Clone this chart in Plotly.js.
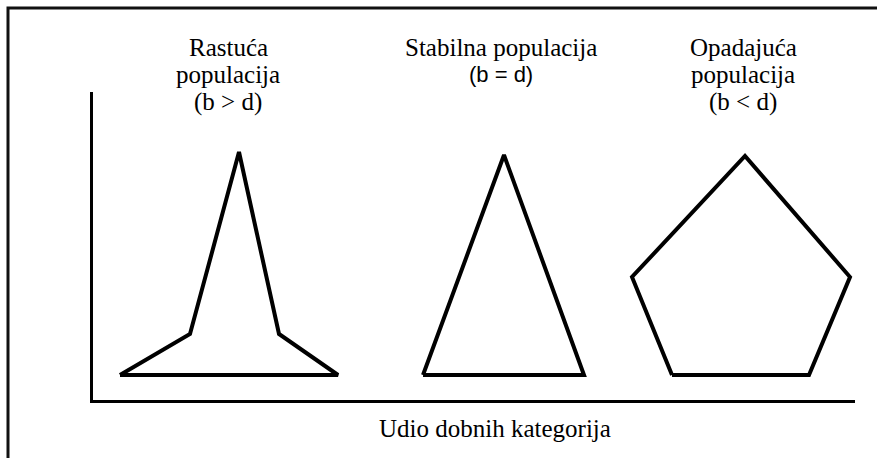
<!DOCTYPE html>
<html>
<head>
<meta charset="utf-8">
<script src="https://cdn.plot.ly/plotly-3.0.1.min.js"></script>
<style>
  body { margin: 0; background: #fff; }
  #plot { width: 877px; height: 458px; }
</style>
</head>
<body>
<div id="plot"></div>
<script>
// age pyramid outlines (x = share of age groups, y = age), arbitrary units
const growingX = [27, 97, 146, 186, 245, 27];
const growingY = [25, 66, 248, 66, 25, 25];

const stableX = [330, 411, 491, 330];
const stableY = [25, 245, 25, 25];

const decliningX = [579, 539, 652, 757, 716, 579];
const decliningY = [25, 123, 244, 123, 25, 25];

const growingTitle = ['Rastuća', 'populacija', '(b &gt; d)'];
const stableTitle = ['Stabilna populacija', '(b = d)'];
const decliningTitle = ['Opadajuća', 'populacija', '(b &lt; d)'];
const xLabel = 'Udio dobnih kategorija';

const serif = 'Liberation Serif';
const sans = 'Liberation Sans';

function outline(name, x, y) {
    return {
        name: name,
        x: x,
        y: y,
        mode: 'lines',
        type: 'scatter',
        line: { color: '#000', width: 4 },
        hoverinfo: 'skip'
    };
}

// line centres in pixels from top, converted to paper units
const plotTop = 92, plotBottom = 400;
function py(px) {
    return (plotBottom - px) / (plotBottom - plotTop);
}

const serifFont = { family: serif, size: 25, color: '#000' };

function titleLines(lines, x, tops, fonts) {
    return lines.map((t, i) => ({
        text: t,
        x: x,
        xref: 'x',
        y: py(tops[i]),
        yref: 'paper',
        xanchor: 'center',
        yanchor: 'middle',
        showarrow: false,
        font: fonts ? fonts[i] : serifFont
    }));
}

const annotations = [].concat(
    titleLines(growingTitle, 135, [47, 75, 102]),
    titleLines(stableTitle, 408, [47, 75], [
        serifFont,
        { family: sans, size: 22, color: '#000' }
    ]),
    titleLines(decliningTitle, 650, [47, 75, 102]),
    [{
        text: xLabel,
        x: 402,
        xref: 'x',
        y: py(428),
        yref: 'paper',
        xanchor: 'center',
        yanchor: 'middle',
        showarrow: false,
        font: serifFont
    }]
);

let layout = {
    width: 877,
    height: 458,
    showlegend: false,
    font: { family: serif, color: '#000' },
    paper_bgcolor: '#fff',
    plot_bgcolor: '#fff',
    margin: { l: 93, r: 22, t: plotTop, b: 458 - plotBottom, pad: 0 },
    xaxis: {
        range: [0, 762],
        showline: true,
        linecolor: '#000',
        linewidth: 3,
        showgrid: false,
        zeroline: false,
        showticklabels: false,
        ticks: ''
    },
    yaxis: {
        range: [0, 308],
        showline: true,
        linecolor: '#000',
        linewidth: 3,
        showgrid: false,
        zeroline: false,
        showticklabels: false,
        ticks: ''
    },
    annotations: annotations,
    shapes: [
        // outer frame (only top and left edges visible)
        {
            type: 'rect',
            xref: 'paper', yref: 'paper',
            x0: -85 / 762, x1: 1.2,
            y0: -0.5, y1: py(8),
            line: { color: '#111', width: 3 },
            fillcolor: 'rgba(0,0,0,0)'
        }
    ]
};

Plotly.newPlot('plot', [
    outline('Rastuća populacija', growingX, growingY),
    outline('Stabilna populacija', stableX, stableY),
    outline('Opadajuća populacija', decliningX, decliningY)
], layout, { staticPlot: true });
</script>
</body>
</html>
